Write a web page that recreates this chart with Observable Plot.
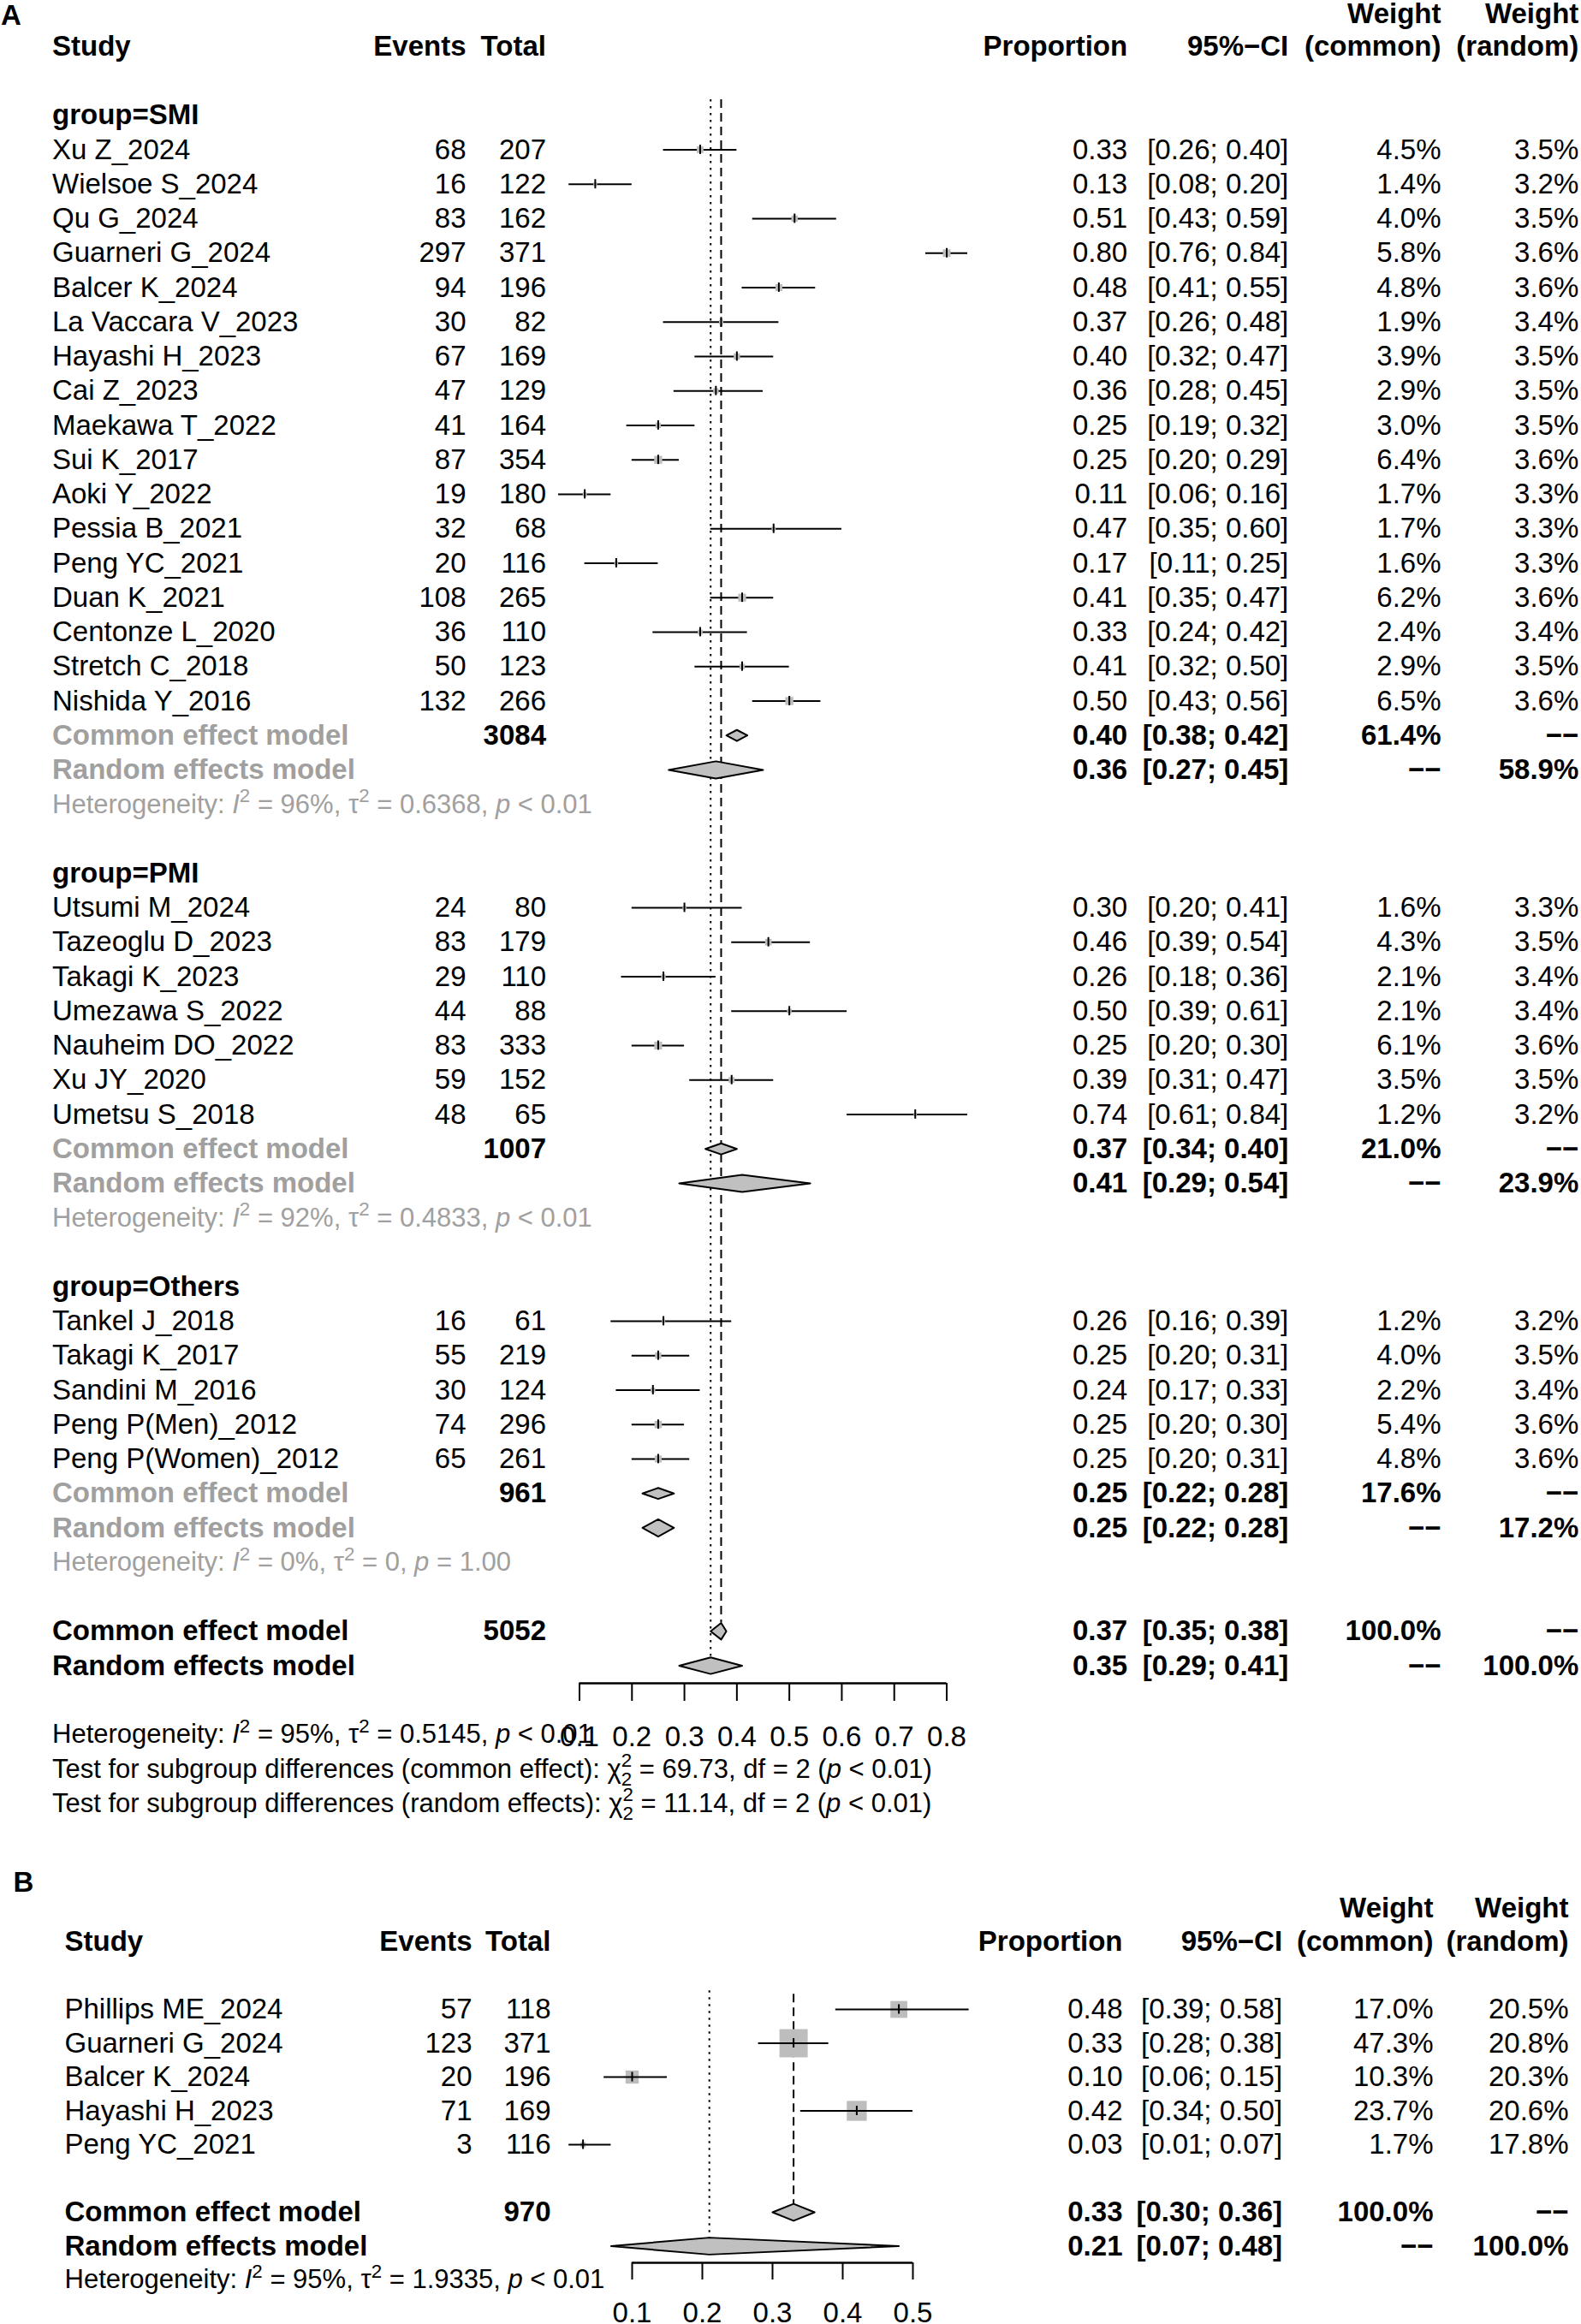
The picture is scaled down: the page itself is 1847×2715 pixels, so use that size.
<!DOCTYPE html>
<html><head><meta charset="utf-8">
<script src="https://cdn.jsdelivr.net/npm/d3@7"></script>
<script src="https://cdn.jsdelivr.net/npm/@observablehq/plot@0.6"></script>
<style>
html,body{margin:0;padding:0;background:#fff;}
#chart svg{display:block;}
</style></head><body><div id="chart"></div>
<script>
// ---------------- Panel A data ----------------
const studyA = ["Xu Z_2024","Wielsoe S_2024","Qu G_2024","Guarneri G_2024","Balcer K_2024","La Vaccara V_2023","Hayashi H_2023","Cai Z_2023","Maekawa T_2022","Sui K_2017","Aoki Y_2022","Pessia B_2021","Peng YC_2021","Duan K_2021","Centonze L_2020","Stretch C_2018","Nishida Y_2016",
 "Utsumi M_2024","Tazeoglu D_2023","Takagi K_2023","Umezawa S_2022","Nauheim DO_2022","Xu JY_2020","Umetsu S_2018",
 "Tankel J_2018","Takagi K_2017","Sandini M_2016","Peng P(Men)_2012","Peng P(Women)_2012"];
const groupA = ["SMI","SMI","SMI","SMI","SMI","SMI","SMI","SMI","SMI","SMI","SMI","SMI","SMI","SMI","SMI","SMI","SMI",
 "PMI","PMI","PMI","PMI","PMI","PMI","PMI","Others","Others","Others","Others","Others"];
const eventsA = [68,16,83,297,94,30,67,47,41,87,19,32,20,108,36,50,132, 24,83,29,44,83,59,48, 16,55,30,74,65];
const totalA  = [207,122,162,371,196,82,169,129,164,354,180,68,116,265,110,123,266, 80,179,110,88,333,152,65, 61,219,124,296,261];
const propA   = [0.33,0.13,0.51,0.80,0.48,0.37,0.40,0.36,0.25,0.25,0.11,0.47,0.17,0.41,0.33,0.41,0.50, 0.30,0.46,0.26,0.50,0.25,0.39,0.74, 0.26,0.25,0.24,0.25,0.25];
const lowerA  = [0.26,0.08,0.43,0.76,0.41,0.26,0.32,0.28,0.19,0.20,0.06,0.35,0.11,0.35,0.24,0.32,0.43, 0.20,0.39,0.18,0.39,0.20,0.31,0.61, 0.16,0.20,0.17,0.20,0.20];
const upperA  = [0.40,0.20,0.59,0.84,0.55,0.48,0.47,0.45,0.32,0.29,0.16,0.60,0.25,0.47,0.42,0.50,0.56, 0.41,0.54,0.36,0.61,0.30,0.47,0.84, 0.39,0.31,0.33,0.30,0.31];
const wCommonA = [4.5,1.4,4.0,5.8,4.8,1.9,3.9,2.9,3.0,6.4,1.7,1.7,1.6,6.2,2.4,2.9,6.5, 1.6,4.3,2.1,2.1,6.1,3.5,1.2, 1.2,4.0,2.2,5.4,4.8];
const wRandomA = [3.5,3.2,3.5,3.6,3.6,3.4,3.5,3.5,3.5,3.6,3.3,3.3,3.3,3.6,3.4,3.5,3.6, 3.3,3.5,3.4,3.4,3.6,3.5,3.2, 3.2,3.5,3.4,3.6,3.6];

const groupNames = ["SMI","PMI","Others"];
const groupTotal = [3084,1007,961];
const groupCE   = [0.40,0.37,0.25];
const groupCELo = [0.38,0.34,0.22];
const groupCEHi = [0.42,0.40,0.28];
const groupCEW  = [61.4,21.0,17.6];
const groupRE   = [0.36,0.41,0.25];
const groupRELo = [0.27,0.29,0.22];
const groupREHi = [0.45,0.54,0.28];
const groupREW  = [58.9,23.9,17.2];
const groupI2   = ["96%","92%","0%"];
const groupTau2 = ["0.6368","0.4833","0"];
const groupP    = ["< 0.01","< 0.01","= 1.00"];

const overallTotalA = 5052;
const overallCEA = [0.37,0.35,0.38];   // estimate, lower, upper
const overallREA = [0.35,0.29,0.41];
const overallHetA = ["95%","0.5145","< 0.01"];
const testCommonA = ["69.73","2","< 0.01"];
const testRandomA = ["11.14","2","< 0.01"];
const ticksA = [0.1,0.2,0.3,0.4,0.5,0.6,0.7,0.8];
const tickLabelsA = ["0.1","0.2","0.3","0.4","0.5","0.6","0.7","0.8"];

// ---------------- Panel B data ----------------
const studyB  = ["Phillips ME_2024","Guarneri G_2024","Balcer K_2024","Hayashi H_2023","Peng YC_2021"];
const eventsB = [57,123,20,71,3];
const totalB  = [118,371,196,169,116];
const propB   = [0.48,0.33,0.10,0.42,0.03];
const lowerB  = [0.39,0.28,0.06,0.34,0.01];
const upperB  = [0.58,0.38,0.15,0.50,0.07];
const wCommonB = [17.0,47.3,10.3,23.7,1.7];
const wRandomB = [20.5,20.8,20.3,20.6,17.8];
const overallTotalB = 970;
const overallCEB = [0.33,0.30,0.36];
const overallREB = [0.21,0.07,0.48];
const overallHetB = ["95%","1.9335","< 0.01"];
const ticksB = [0.1,0.2,0.3,0.4,0.5];
const tickLabelsB = ["0.1","0.2","0.3","0.4","0.5"];

const headers = ["Study","Events","Total","Proportion","95%\u2212CI","Weight","(common)","Weight","(random)"];
const NONE = "\u2212\u2212";

// ---------------- styling ----------------
const FONT = "'Liberation Sans', Arial, Helvetica, sans-serif";
const FS = 33;      // table text
const FSH = 31;     // heterogeneity / test text
const GRAY_TXT = "#a0a0a0";
const SQ_FILL = "#bdbdbd";
const DIA_FILL = "#c0c0c0";
const f2 = v => v.toFixed(2);
const ciTxt = (lo, hi) => `[${f2(lo)}; ${f2(hi)}]`;
const pct = v => v.toFixed(1) + "%";
const hetTxt = (i2, t2, p) => `Heterogeneity: *I*^2 = ${i2}, \u03c4^2 = ${t2}, *p* ${p}`;
const testTxt = (kind, c, df, p) => `Test for subgroup differences (${kind}): \u03c7^2_${df} = ${c}, df = ${df} (*p* ${p})`;

function lbl(str, row, dx, anchor, o = {}) {
  return Plot.text([str], {y: () => row, text: d => d, frameAnchor: "left", dx, textAnchor: anchor, fontSize: FS, lineAnchor: "middle", ...o});
}
function col(data, field, dx, anchor, o = {}) {
  return Plot.text(data, {y: "row", text: field, frameAnchor: "left", dx, textAnchor: anchor, fontSize: FS, lineAnchor: "middle", ...o});
}
function diamondPts(items, h) {
  const pts = [];
  items.forEach(d => {
    pts.push({id: d.id, x: d.lo, y: d.row}, {id: d.id, x: d.est, y: d.row - h}, {id: d.id, x: d.hi, y: d.row}, {id: d.id, x: d.est, y: d.row + h});
  });
  return pts;
}
function richify(svg) {
  svg.querySelectorAll("text").forEach(el => {
    const s = el.textContent;
    if (!s.includes("^")) return;
    el.textContent = "";
    const parts = s.split(/(\*[^*]+\*|\^\d|_\d)/).filter(p => p !== "");
    let shift = 0;
    const up = -0.40 * FSH, down = 0.30 * FSH, small = 0.72 * FSH;
    const supW = 0.556 * small;
    for (const p of parts) {
      const t = document.createElementNS("http://www.w3.org/2000/svg", "tspan");
      if (p[0] === "^") {
        t.textContent = p.slice(1); t.setAttribute("font-size", small);
        t.setAttribute("dy", up - shift); shift = up;
      } else if (p[0] === "_") {
        t.textContent = p.slice(1); t.setAttribute("font-size", small);
        t.setAttribute("dx", -supW); t.setAttribute("dy", down - shift); shift = down;
      } else {
        const it = p.length > 2 && p[0] === "*" && p[p.length - 1] === "*";
        t.textContent = it ? p.slice(1, -1) : p;
        if (it) t.setAttribute("font-style", "italic");
        if (shift) t.setAttribute("dy", -shift);
        shift = 0;
      }
      el.appendChild(t);
    }
  });
}

const style = {fontFamily: FONT, background: "#fff", overflow: "visible", color: "#000"};

// ---------------- Panel A tables ----------------
const studiesA = [], groupsA = [], ceA = [], reA = [], hetA = [];
let k = 2;
groupNames.forEach((g, gi) => {
  groupsA.push({row: k++, label: "group=" + g});
  studyA.forEach((s, i) => {
    if (groupA[i] !== g) return;
    studiesA.push({row: k++, study: s, events: String(eventsA[i]), total: String(totalA[i]),
      prop: f2(propA[i]), ci: ciTxt(lowerA[i], upperA[i]), wc: pct(wCommonA[i]), wr: pct(wRandomA[i]),
      est: propA[i], lo: lowerA[i], hi: upperA[i], w: wCommonA[i]});
  });
  ceA.push({id: "ce" + gi, row: k++, name: "Common effect model", total: String(groupTotal[gi]), prop: f2(groupCE[gi]),
    ci: ciTxt(groupCELo[gi], groupCEHi[gi]), wc: pct(groupCEW[gi]), wr: NONE, est: groupCE[gi], lo: groupCELo[gi], hi: groupCEHi[gi]});
  reA.push({id: "re" + gi, row: k++, name: "Random effects model", total: "", prop: f2(groupRE[gi]),
    ci: ciTxt(groupRELo[gi], groupREHi[gi]), wc: NONE, wr: pct(groupREW[gi]), est: groupRE[gi], lo: groupRELo[gi], hi: groupREHi[gi]});
  hetA.push({row: k++, text: hetTxt(groupI2[gi], groupTau2[gi], groupP[gi])});
  k++;
});
const ovRowA = k; // overall common row
const overallA = [
  {id: "oce", row: ovRowA, name: "Common effect model", total: String(overallTotalA), prop: f2(overallCEA[0]), ci: ciTxt(overallCEA[1], overallCEA[2]), wc: "100.0%", wr: NONE, est: overallCEA[0], lo: overallCEA[1], hi: overallCEA[2]},
  {id: "ore", row: ovRowA + 1, name: "Random effects model", total: "", prop: f2(overallREA[0]), ci: ciTxt(overallREA[1], overallREA[2]), wc: NONE, wr: "100.0%", est: overallREA[0], lo: overallREA[1], hi: overallREA[2]}
];
const bottomA = [
  {row: ovRowA + 3, text: hetTxt(overallHetA[0], overallHetA[1], overallHetA[2])},
  {row: ovRowA + 4, text: testTxt("common effect", testCommonA[0], testCommonA[1], testCommonA[2])},
  {row: ovRowA + 5, text: testTxt("random effects", testRandomA[0], testRandomA[1], testRandomA[2])}
];

const C = {study: -616, events: -132.5, total: -39, prop: 640.2, ci: 828.3, wc: 1006.5, wr: 1167.3};
const axisRowA = (1966 - 53.7) / 40.25;

function tableMarks(C, studies, summaries, summaryNameFill, hdrRow, wRow, lab, labRow) {
  const B = {fontWeight: "bold"};
  return [
    lbl(lab, labRow, C.study - 60, "start", B),
    lbl(headers[0], hdrRow, C.study, "start", B),
    lbl(headers[1], hdrRow, C.events, "end", B),
    lbl(headers[2], hdrRow, C.total, "end", B),
    lbl(headers[3], hdrRow, C.prop, "end", B),
    lbl(headers[4], hdrRow, C.ci, "end", B),
    lbl(headers[5], wRow, C.wc, "end", B),
    lbl(headers[6], hdrRow, C.wc, "end", B),
    lbl(headers[7], wRow, C.wr, "end", B),
    lbl(headers[8], hdrRow, C.wr, "end", B),
    col(studies, "study", C.study, "start"),
    col(studies, "events", C.events, "end"),
    col(studies, "total", C.total, "end"),
    col(studies, "prop", C.prop, "end"),
    col(studies, "ci", C.ci, "end"),
    col(studies, "wc", C.wc, "end"),
    col(studies, "wr", C.wr, "end"),
    col(summaries, "name", C.study, "start", {...B, fill: summaryNameFill}),
    col(summaries, "total", C.total, "end", B),
    col(summaries, "prop", C.prop, "end", B),
    col(summaries, "ci", C.ci, "end", B),
    col(summaries, "wc", C.wc, "end", B),
    col(summaries, "wr", C.wr, "end", B)
  ];
}

const plotA = Plot.plot({
  width: 1847, height: 2160,
  marginLeft: 676.5, marginRight: 741.5, marginTop: 0, marginBottom: 2160 - 1966,
  x: {domain: [0.1, 0.8], range: [676.5, 1105.5], axis: null},
  y: {domain: [0, 1], range: [53.7, 93.95], axis: null},
  r: {domain: [0, 6.5], range: [0, 5.3]},
  style,
  marks: [
    Plot.ruleX([overallREA[0]], {x: d => d, y1: () => 1.55, y2: () => ovRowA + 1 - 0.25, strokeWidth: 2, strokeDasharray: "2.5,5.5"}),
    Plot.ruleX([overallCEA[0]], {x: d => d, y1: () => 1.55, y2: () => ovRowA - 0.25, strokeWidth: 2, strokeDasharray: "10,6"}),
    Plot.ruleY(studiesA, {y: "row", x1: "lo", x2: "hi", strokeWidth: 2}),
    Plot.dot(studiesA, {x: "est", y: "row", r: "w", symbol: "square", fill: SQ_FILL, stroke: "none"}),
    Plot.ruleX(studiesA, {x: "est", y1: d => d.row - 0.135, y2: d => d.row + 0.135, strokeWidth: 2}),
    Plot.line(diamondPts(ceA, 0.16), {x: "x", y: "y", z: "id", curve: "linear-closed", fill: DIA_FILL, stroke: "black", strokeWidth: 2}),
    Plot.line(diamondPts(reA, 0.25), {x: "x", y: "y", z: "id", curve: "linear-closed", fill: DIA_FILL, stroke: "black", strokeWidth: 2}),
    Plot.line(diamondPts(overallA, 0.24), {x: "x", y: "y", z: "id", curve: "linear-closed", fill: DIA_FILL, stroke: "black", strokeWidth: 2}),
    ...tableMarks(C, studiesA, ceA.concat(reA), GRAY_TXT, 0, -0.95, "A", -0.88),
    col(groupsA, "label", C.study, "start", {fontWeight: "bold"}),
    col(hetA, "text", C.study, "start", {fill: GRAY_TXT, fontSize: FSH}),
    col(overallA, "name", C.study, "start", {fontWeight: "bold"}),
    col(overallA, "total", C.total, "end", {fontWeight: "bold"}),
    col(overallA, "prop", C.prop, "end", {fontWeight: "bold"}),
    col(overallA, "ci", C.ci, "end", {fontWeight: "bold"}),
    col(overallA, "wc", C.wc, "end", {fontWeight: "bold"}),
    col(overallA, "wr", C.wr, "end", {fontWeight: "bold"}),
    col(bottomA, "text", C.study, "start", {fontSize: FSH}),
    Plot.ruleY([axisRowA], {y: d => d, x1: () => ticksA[0], x2: () => ticksA[ticksA.length - 1], strokeWidth: 2.5}),
    Plot.axisX({anchor: "bottom", ticks: ticksA, tickFormat: d => tickLabelsA[ticksA.indexOf(d)], tickSize: 21, tickPadding: 29, fontSize: FS, strokeWidth: 2, label: null})
  ]
});

// ---------------- Panel B tables ----------------
const studiesB = studyB.map((s, i) => ({row: i, study: s, events: String(eventsB[i]), total: String(totalB[i]),
  prop: f2(propB[i]), ci: ciTxt(lowerB[i], upperB[i]), wc: pct(wCommonB[i]), wr: pct(wRandomB[i]),
  est: propB[i], lo: lowerB[i], hi: upperB[i], w: wCommonB[i]}));
const ovRowB = studyB.length + 1;
const overallB = [
  {id: "bce", row: ovRowB, name: "Common effect model", total: String(overallTotalB), prop: f2(overallCEB[0]), ci: ciTxt(overallCEB[1], overallCEB[2]), wc: "100.0%", wr: NONE, est: overallCEB[0], lo: overallCEB[1], hi: overallCEB[2]},
  {id: "bre", row: ovRowB + 1, name: "Random effects model", total: "", prop: f2(overallREB[0]), ci: ciTxt(overallREB[1], overallREB[2]), wc: NONE, wr: "100.0%", est: overallREB[0], lo: overallREB[1], hi: overallREB[2]}
];
const hetB = [{row: ovRowB + 2, text: hetTxt(overallHetB[0], overallHetB[1], overallHetB[2])}];
const CB = {study: -663, events: -187, total: -95, prop: 573, ci: 759.6, wc: 936, wr: 1094};
const HB = 555;
const topB = 2347 - 2160;

const plotB = Plot.plot({
  width: 1847, height: HB,
  marginLeft: 738, marginRight: 1847 - 1066, marginTop: 0, marginBottom: HB - (2643 - 2160),
  x: {domain: [0.1, 0.5], range: [738, 1066], axis: null},
  y: {domain: [0, 1], range: [topB, topB + 39.5], axis: null},
  r: {domain: [0, 47.3], range: [0, 18.6]},
  style,
  marks: [
    Plot.ruleX([overallREB[0]], {x: d => d, y1: () => -0.55, y2: () => ovRowB + 1 - 0.25, strokeWidth: 2, strokeDasharray: "2.5,5.5"}),
    Plot.ruleX([overallCEB[0]], {x: d => d, y1: () => -0.45, y2: () => ovRowB - 0.25, strokeWidth: 2, strokeDasharray: "10,6"}),
    Plot.dot(studiesB, {x: "est", y: "row", r: "w", symbol: "square", fill: SQ_FILL, stroke: "none"}),
    Plot.ruleY(studiesB, {y: "row", x1: "lo", x2: "hi", strokeWidth: 2}),
    Plot.ruleX(studiesB, {x: "est", y1: d => d.row - 0.14, y2: d => d.row + 0.14, strokeWidth: 2}),
    Plot.line(diamondPts(overallB, 0.25), {x: "x", y: "y", z: "id", curve: "linear-closed", fill: DIA_FILL, stroke: "black", strokeWidth: 2}),
    ...tableMarks(CB, studiesB, overallB, "#000", -2, -3, "B", -3.75),
    col(hetB, "text", CB.study, "start", {fontSize: FSH}),
    Plot.ruleY([(2643 - 2347) / 39.5], {y: d => d, x1: () => ticksB[0], x2: () => ticksB[ticksB.length - 1], strokeWidth: 2.5}),
    Plot.axisX({anchor: "bottom", ticks: ticksB, tickFormat: d => tickLabelsB[ticksB.indexOf(d)], tickSize: 20, tickPadding: 26, fontSize: FS, strokeWidth: 2, label: null})
  ]
});

richify(plotA); richify(plotB);
const chart = document.getElementById("chart");
chart.appendChild(plotA);
chart.appendChild(plotB);
</script></body></html>
